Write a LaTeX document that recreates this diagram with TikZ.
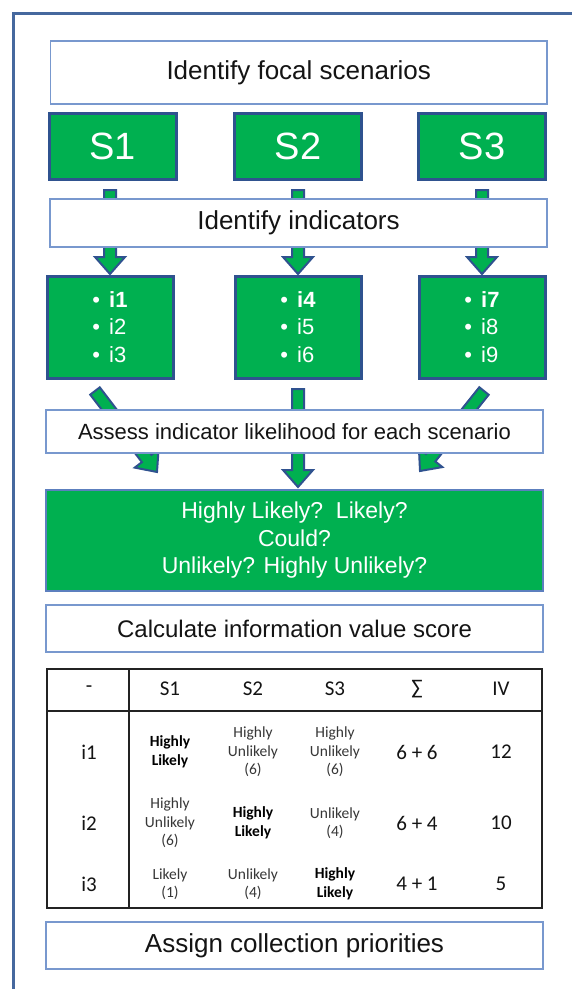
\documentclass[tikz,border=0pt]{standalone}
\usepackage{fontspec}
\setmainfont{Liberation Sans}
\newfontfamily\tabfont{Carlito}
\usetikzlibrary{calc}

\definecolor{boxgreen}{RGB}{0,176,80}
\definecolor{navy}{RGB}{47,82,143}
\definecolor{boxline}{RGB}{120,152,206}
\definecolor{midblue}{RGB}{92,127,190}
\definecolor{framecol}{RGB}{70,104,158}
\definecolor{txt}{RGB}{20,20,20}
\definecolor{cellgray}{RGB}{55,55,55}
\definecolor{tabline}{RGB}{35,35,35}

% block arrow between two named coordinates
\newcommand\blockarrow[2]{%
  \path let \p1=($(#2)-(#1)$) in \pgfextra{%
    \pgfmathparse{atan2(\y1,\x1)}\xdef\barang{\pgfmathresult}%
    \pgfmathparse{veclen(\x1,\y1)}\xdef\barlen{\pgfmathresult}};
  \begin{scope}[shift={(#1)}, rotate=\barang]
    \draw[blockarr] (0,-6) -- ({\barlen-17},-6) -- ({\barlen-17},-15) -- (\barlen,0)
      -- ({\barlen-17},15) -- ({\barlen-17},6) -- (0,6) -- cycle;
  \end{scope}}

% bullet item in the indicator lists
\newcommand\bitem[1]{•\hspace{9pt}#1}

\tikzset{
  wbox/.style={draw=boxline, line width=1.6pt, fill=white, text=txt,
    inner sep=0pt, outer sep=0pt},
  gbox/.style={draw=navy, line width=3pt, fill=boxgreen, text=white,
    inner sep=0pt, outer sep=0pt},
  blockarr/.style={fill=boxgreen, draw=navy, line width=2pt, line join=miter},
  cell/.style={font=\tabfont\fontsize{15.5}{18.5}\selectfont, text=cellgray,
    align=center, inner sep=0pt},
  cellb/.style={font=\tabfont\bfseries\fontsize{15.5}{18.5}\selectfont, text=black,
    align=center, inner sep=0pt},
  head/.style={font=\tabfont\fontsize{21}{25}\selectfont, text=txt, inner sep=0pt},
  ilist/.style={gbox, minimum width=126pt, minimum height=102pt, align=left,
    font=\fontsize{22}{27.5}\selectfont},
  sbox/.style={gbox, minimum width=127pt, minimum height=66pt,
    font=\fontsize{38}{44}\selectfont},
}

\begin{document}
\begin{tikzpicture}[x=1pt, y=-1pt]
\useasboundingbox (0,0) rectangle (571,989);

% outer frame
\draw[framecol, line width=3pt] (13,13) rectangle (620,1040);

% scenario and indicator boxes
\node[sbox] (s1) at (112.5,146) {S1};
\node[sbox] (s2) at (298,146) {S2};
\node[sbox] (s3) at (482,146) {S3};

\node[ilist] (i1) at (110,327) {\bitem{\textbf{i1}}\\\bitem{i2}\\\bitem{i3}};
\node[ilist] (i2) at (298,327) {\bitem{\textbf{i4}}\\\bitem{i5}\\\bitem{i6}};
\node[ilist] (i3) at (482,327) {\bitem{\textbf{i7}}\\\bitem{i8}\\\bitem{i9}};

\node[gbox, draw=midblue, line width=2.2pt, minimum width=497pt, minimum height=101pt,
  align=center, font=\fontsize{23}{27.5}\selectfont] (lik) at (294.5,540.5)
  {Highly Likely?\ \ Likely?\\Could?\\Unlikely? Highly Unlikely?};

% arrow end points
\coordinate (a1s) at ($(i1.north)+(0,-86)$);
\coordinate (a1e) at ($(i1.north)+(0,-2)$);
\coordinate (a2s) at ($(i2.north)+(0,-86)$);
\coordinate (a2e) at ($(i2.north)+(0,-2)$);
\coordinate (a3s) at ($(i3.north)+(0,-86)$);
\coordinate (a3e) at ($(i3.north)+(0,-2)$);
\coordinate (b1s) at ($(i1.south)+(-15,13)$);
\coordinate (b1e) at ($(lik.north west)+(111,-18)$);
\coordinate (b2s) at ($(i2.south)+(0,11)$);
\coordinate (b2e) at ($(i2.south |- lik.north)+(0,-3)$);
\coordinate (b3s) at ($(i3.south)+(2,13)$);
\coordinate (b3e) at ($(lik.north east)+(-123,-19)$);

\blockarrow{a1s}{a1e}
\blockarrow{a2s}{a2e}
\blockarrow{a3s}{a3e}
\blockarrow{b1s}{b1e}
\blockarrow{b2s}{b2e}
\blockarrow{b3s}{b3e}

% process steps
\node[wbox, minimum width=496.5pt, minimum height=63pt,
  font=\fontsize{26}{30}\selectfont] (focal) at (298.75,72.5) {Identify focal scenarios};
\node[wbox, minimum width=497pt, minimum height=48pt,
  font=\fontsize{26}{30}\selectfont] (ind) at (298.5,223) {Identify indicators};
\node[wbox, minimum width=497pt, minimum height=43pt,
  font=\fontsize{22}{26}\selectfont] (assess) at (294.5,431.5)
  {Assess indicator likelihood for each scenario};
\node[wbox, minimum width=497pt, minimum height=47pt,
  font=\fontsize{24}{28}\selectfont] (calc) at (294.5,628.5)
  {Calculate information value score};
\node[wbox, minimum width=497pt, minimum height=47pt,
  font=\fontsize{26}{30}\selectfont] (assign) at (294.5,945.5)
  {Assign collection priorities};

% score table
\node[draw=tabline, line width=1.6pt, fill=white, minimum width=495pt,
  minimum height=239pt, inner sep=0pt, outer sep=0pt] (tbl) at (294.5,788.5) {};
\draw[tabline, line width=2.2pt] ([xshift=82pt]tbl.north west) -- ([xshift=82pt]tbl.south west);
\draw[tabline, line width=1.6pt] ([yshift=-42pt]tbl.north west) -- ([yshift=-42pt]tbl.north east);

\node[head] (h0) at (89,689) {-};
\node[head] (h1) at (170,689) {S1};
\node[head] (h2) at (253,689) {S2};
\node[head] (h3) at (335,689) {S3};
\node[head] (h4) at (417,689) {∑};
\node[head] (h5) at (501,689) {IV};

\node[head] (r1) at (89,752) {i1};
\node[cellb] (r1c1) at (170,752) {Highly\\Likely};
\node[cell] (r1c2) at (253,752) {Highly\\Unlikely\\(6)};
\node[cell] (r1c3) at (335,752) {Highly\\Unlikely\\(6)};
\node[head] (r1c4) at (417,752) {6 + 6};
\node[head] (r1c5) at (501,752) {12};

\node[head] (r2) at (89,823) {i2};
\node[cell] (r2c1) at (170,823) {Highly\\Unlikely\\(6)};
\node[cellb] (r2c2) at (253,823) {Highly\\Likely};
\node[cell] (r2c3) at (335,823) {Unlikely\\(4)};
\node[head] (r2c4) at (417,823) {6 + 4};
\node[head] (r2c5) at (501,823) {10};

\node[head] (r3) at (89,884) {i3};
\node[cell] (r3c1) at (170,884) {Likely\\(1)};
\node[cell] (r3c2) at (253,884) {Unlikely\\(4)};
\node[cellb] (r3c3) at (335,884) {Highly\\Likely};
\node[head] (r3c4) at (417,884) {4 + 1};
\node[head] (r3c5) at (501,884) {5};
\end{tikzpicture}
\end{document}
